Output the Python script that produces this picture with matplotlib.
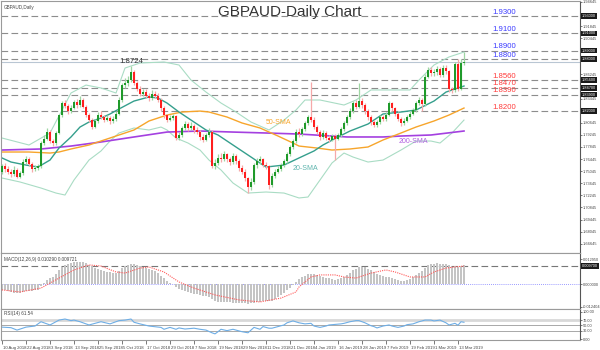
import matplotlib
matplotlib.use("Agg")
import matplotlib.pyplot as plt
import matplotlib.transforms as mtransforms

# daily GBPAUD candles, 10 Aug 2018 .. 14 Mar 2019
OPEN = [
    1.7500, 1.7560, 1.7530, 1.7500, 1.7470, 1.7520, 1.7440, 1.7480, 1.7610, 1.7640,
    1.7590, 1.7530, 1.7540, 1.7560, 1.7830, 1.7880, 1.7960, 1.7850, 1.7830, 1.7950,
    1.8150, 1.8290, 1.8260, 1.8200, 1.8240, 1.8300, 1.8270, 1.8330, 1.8250, 1.8150,
    1.8100, 1.8020, 1.8080, 1.8160, 1.8130, 1.8100, 1.8120, 1.8080, 1.8110, 1.8170,
    1.8330, 1.8500, 1.8520, 1.8560, 1.8650, 1.8520, 1.8460, 1.8400, 1.8420, 1.8380,
    1.8350, 1.8400, 1.8380, 1.8330, 1.8230, 1.8150, 1.8100, 1.8120, 1.8140, 1.7890,
    1.7920, 1.8000, 1.8050, 1.8000, 1.8030, 1.7980, 1.7960, 1.7900, 1.7870, 1.7920,
    1.7960, 1.7560, 1.7600, 1.7660, 1.7640, 1.7700, 1.7640, 1.7610, 1.7680, 1.7620,
    1.7540, 1.7500, 1.7420, 1.7320, 1.7380, 1.7570, 1.7620, 1.7640, 1.7580, 1.7560,
    1.7340, 1.7450, 1.7500, 1.7530, 1.7570, 1.7620, 1.7700, 1.7780, 1.7850, 1.7960,
    1.7930, 1.7990, 1.8060, 1.8130, 1.8100, 1.8010, 1.7960, 1.7900, 1.7950, 1.7890,
    1.7870, 1.7910, 1.7880, 1.7920, 1.7990, 1.8060, 1.8130, 1.8200, 1.8290, 1.8250,
    1.8320, 1.8270, 1.8200, 1.8130, 1.8070, 1.8040, 1.8070, 1.8130, 1.8110, 1.8160,
    1.8290, 1.8230, 1.8170, 1.8110, 1.8060, 1.8090, 1.8130, 1.8170, 1.8210, 1.8290,
    1.8330, 1.8280, 1.8600, 1.8680, 1.8640, 1.8650, 1.8690, 1.8620, 1.8700, 1.8660,
    1.8450, 1.8440, 1.8750, 1.8460, 1.8760,
]
HIGH = [
    1.7590, 1.7600, 1.7560, 1.7530, 1.7560, 1.7540, 1.7510, 1.7640, 1.7680, 1.7670,
    1.7610, 1.7570, 1.7590, 1.7850, 1.7920, 1.8000, 1.7980, 1.7880, 1.7970, 1.8170,
    1.8320, 1.8330, 1.8280, 1.8270, 1.8330, 1.8340, 1.8370, 1.8350, 1.8270, 1.8180,
    1.8120, 1.8110, 1.8190, 1.8200, 1.8160, 1.8150, 1.8140, 1.8140, 1.8200, 1.8360,
    1.8530, 1.8580, 1.8610, 1.8724, 1.8680, 1.8550, 1.8490, 1.8460, 1.8450, 1.8410,
    1.8440, 1.8430, 1.8410, 1.8350, 1.8260, 1.8170, 1.8150, 1.8170, 1.8160, 1.7960,
    1.8030, 1.8080, 1.8070, 1.8070, 1.8050, 1.8010, 1.7980, 1.7930, 1.7950, 1.8000,
    1.7980, 1.7640, 1.7700, 1.7720, 1.7740, 1.7720, 1.7670, 1.7710, 1.7700, 1.7640,
    1.7570, 1.7530, 1.7440, 1.7420, 1.7600, 1.7660, 1.7680, 1.7660, 1.7610, 1.7580,
    1.7480, 1.7530, 1.7560, 1.7600, 1.7650, 1.7730, 1.7810, 1.7880, 1.7990, 1.8000,
    1.8020, 1.8090, 1.8160, 1.8540, 1.8130, 1.8040, 1.7980, 1.7980, 1.7970, 1.7920,
    1.7940, 1.7930, 1.7950, 1.8020, 1.8090, 1.8160, 1.8230, 1.8320, 1.8330, 1.8525,
    1.8350, 1.8290, 1.8220, 1.8150, 1.8100, 1.8100, 1.8160, 1.8160, 1.8190, 1.8320,
    1.8310, 1.8250, 1.8190, 1.8130, 1.8120, 1.8160, 1.8200, 1.8240, 1.8320, 1.8360,
    1.8350, 1.8630, 1.8710, 1.8710, 1.8690, 1.8720, 1.8710, 1.8730, 1.8730, 1.8680,
    1.8480, 1.8770, 1.8800, 1.8800, 1.8880,
]
LOW = [
    1.7470, 1.7500, 1.7470, 1.7440, 1.7450, 1.7420, 1.7420, 1.7460, 1.7590, 1.7560,
    1.7500, 1.7510, 1.7520, 1.7540, 1.7810, 1.7860, 1.7830, 1.7800, 1.7810, 1.7930,
    1.8130, 1.8230, 1.8170, 1.8180, 1.8220, 1.8240, 1.8250, 1.8230, 1.8130, 1.8070,
    1.7990, 1.8000, 1.8060, 1.8110, 1.8070, 1.8080, 1.8050, 1.8060, 1.8090, 1.8150,
    1.8310, 1.8470, 1.8490, 1.8540, 1.8500, 1.8430, 1.8370, 1.8380, 1.8350, 1.8320,
    1.8330, 1.8350, 1.8310, 1.8200, 1.8120, 1.8070, 1.8080, 1.8100, 1.7860, 1.7870,
    1.7900, 1.7980, 1.7970, 1.7980, 1.7950, 1.7930, 1.7870, 1.7840, 1.7850, 1.7900,
    1.7540, 1.7530, 1.7580, 1.7610, 1.7620, 1.7610, 1.7580, 1.7590, 1.7590, 1.7510,
    1.7470, 1.7390, 1.7250, 1.7290, 1.7360, 1.7540, 1.7590, 1.7550, 1.7530, 1.7300,
    1.7320, 1.7420, 1.7480, 1.7510, 1.7550, 1.7600, 1.7680, 1.7760, 1.7830, 1.7900,
    1.7910, 1.7970, 1.8040, 1.8070, 1.7990, 1.7940, 1.7870, 1.7880, 1.7860, 1.7840,
    1.7850, 1.7633, 1.7860, 1.7900, 1.7970, 1.8040, 1.8110, 1.8180, 1.8220, 1.8230,
    1.8240, 1.8170, 1.8100, 1.8040, 1.8010, 1.8020, 1.8050, 1.8080, 1.8090, 1.8140,
    1.8200, 1.8140, 1.8080, 1.8030, 1.8040, 1.8070, 1.8110, 1.8150, 1.8190, 1.8270,
    1.8200, 1.8260, 1.8580, 1.8610, 1.8610, 1.8620, 1.8590, 1.8600, 1.8630, 1.8420,
    1.8410, 1.8420, 1.8430, 1.8440, 1.8730,
]
CLOSE = [
    1.7560, 1.7530, 1.7500, 1.7470, 1.7520, 1.7440, 1.7480, 1.7610, 1.7640, 1.7590,
    1.7530, 1.7540, 1.7560, 1.7830, 1.7880, 1.7960, 1.7850, 1.7830, 1.7950, 1.8150,
    1.8290, 1.8260, 1.8200, 1.8240, 1.8300, 1.8270, 1.8330, 1.8250, 1.8150, 1.8100,
    1.8020, 1.8080, 1.8160, 1.8130, 1.8100, 1.8120, 1.8080, 1.8110, 1.8170, 1.8330,
    1.8500, 1.8520, 1.8560, 1.8650, 1.8520, 1.8460, 1.8400, 1.8420, 1.8380, 1.8350,
    1.8400, 1.8380, 1.8330, 1.8230, 1.8150, 1.8100, 1.8120, 1.8140, 1.7890, 1.7920,
    1.8000, 1.8050, 1.8000, 1.8030, 1.7980, 1.7960, 1.7900, 1.7870, 1.7920, 1.7960,
    1.7560, 1.7600, 1.7660, 1.7640, 1.7700, 1.7640, 1.7610, 1.7680, 1.7620, 1.7540,
    1.7500, 1.7420, 1.7320, 1.7380, 1.7570, 1.7620, 1.7640, 1.7580, 1.7560, 1.7340,
    1.7450, 1.7500, 1.7530, 1.7570, 1.7620, 1.7700, 1.7780, 1.7850, 1.7960, 1.7930,
    1.7990, 1.8060, 1.8130, 1.8100, 1.8010, 1.7960, 1.7900, 1.7950, 1.7890, 1.7870,
    1.7910, 1.7880, 1.7920, 1.7990, 1.8060, 1.8130, 1.8200, 1.8290, 1.8250, 1.8320,
    1.8270, 1.8200, 1.8130, 1.8070, 1.8040, 1.8070, 1.8130, 1.8110, 1.8160, 1.8290,
    1.8230, 1.8170, 1.8110, 1.8060, 1.8090, 1.8130, 1.8170, 1.8210, 1.8290, 1.8330,
    1.8280, 1.8600, 1.8680, 1.8640, 1.8650, 1.8690, 1.8620, 1.8700, 1.8660, 1.8450,
    1.8440, 1.8750, 1.8460, 1.8760, 1.8771,
]
LAST_PRICE = 1.8771

DATE_IDX = list(range(0, 160, 8))
DATE_LABELS = [
    "10 Aug 2018", "22 Aug 2018", "3 Sep 2018", "13 Sep 2018", "25 Sep 2018",
    "5 Oct 2018", "17 Oct 2018", "29 Oct 2018", "7 Nov 2018", "19 Nov 2018",
    "29 Nov 2018", "11 Dec 2018", "21 Dec 2018", "4 Jan 2019", "16 Jan 2019",
    "28 Jan 2019", "7 Feb 2019", "19 Feb 2019", "1 Mar 2019", "13 Mar 2019",
]

# moving averages and bollinger bands, sampled points
SMA20_IDX = [0, 3, 8, 12, 16, 19, 23, 26, 29, 33, 36, 39, 44, 49, 52, 55, 59, 64, 68, 72,
             77, 83, 88, 94, 99, 104, 107, 112, 116, 122, 127, 133, 138, 144, 148, 154]
SMA20_VAL = [1.7657, 1.7610, 1.7575, 1.7552, 1.7633, 1.7772, 1.7900, 1.8015, 1.8073, 1.8119,
             1.8166, 1.8224, 1.8316, 1.8363, 1.8351, 1.8293, 1.8189, 1.8073, 1.7981, 1.7923,
             1.7807, 1.7668, 1.7552, 1.7575, 1.7657, 1.7738, 1.7807, 1.7900, 1.7969, 1.8050,
             1.8166, 1.8189, 1.8212, 1.8316, 1.8420, 1.8490]
BB_UP_IDX = [0, 9, 16, 23, 28, 33, 38, 41, 46, 54, 59, 63, 68, 73, 78, 83, 89, 94, 98, 101,
             106, 114, 118, 123, 136, 139, 144, 149, 154]
BB_UP_VAL = [1.7888, 1.7807, 1.7946, 1.8409, 1.8501, 1.8467, 1.8409, 1.8698, 1.8756, 1.8768,
             1.8733, 1.8559, 1.8420, 1.8293, 1.8189, 1.8073, 1.7981, 1.8096, 1.8212, 1.8328,
             1.8328, 1.8270, 1.8328, 1.8444, 1.8444, 1.8559, 1.8733, 1.8826, 1.8883]
BB_LO_IDX = [0, 6, 13, 18, 21, 24, 29, 33, 36, 39, 44, 49, 53, 55, 58, 62, 66, 69, 73, 77,
             82, 88, 94, 99, 102, 106, 110, 114, 117, 122, 127, 133, 138, 143, 146, 150, 154]
BB_LO_VAL = [1.7425, 1.7379, 1.7309, 1.7251, 1.7228, 1.7402, 1.7633, 1.7738, 1.7853, 1.7946,
             1.8004, 1.7981, 1.8015, 1.7981, 1.7888, 1.7830, 1.7749, 1.7633, 1.7518, 1.7367,
             1.7251, 1.7263, 1.7251, 1.7194, 1.7205, 1.7402, 1.7599, 1.7714, 1.7668, 1.7610,
             1.7633, 1.7749, 1.7853, 1.7853, 1.7830, 1.7946, 1.8096]
SMA50_IDX = [0, 9, 16, 19, 23, 29, 36, 44, 49, 55, 60, 66, 69, 75, 80, 86, 92, 97, 99, 105,
             110, 116, 122, 127, 133, 138, 144, 149, 154]
SMA50_VAL = [1.7726, 1.7726, 1.7714, 1.7726, 1.7761, 1.7807, 1.7888, 1.7981, 1.8085, 1.8154,
             1.8189, 1.8200, 1.8189, 1.8131, 1.8062, 1.8004, 1.7911, 1.7830, 1.7795, 1.7772,
             1.7749, 1.7761, 1.7784, 1.7865, 1.7946, 1.8015, 1.8085, 1.8154, 1.8235]
SMA200_IDX = [0, 13, 23, 33, 44, 55, 66, 77, 88, 99, 110, 115, 127, 133, 143, 154]
SMA200_VAL = [1.7749, 1.7761, 1.7795, 1.7842, 1.7900, 1.7957, 1.7969, 1.7957, 1.7946, 1.7934,
              1.7911, 1.7900, 1.7900, 1.7911, 1.7923, 1.7969]

LEVELS_UP = [1.9300, 1.9100, 1.8900, 1.8800]
LEVELS_DOWN = [1.8560, 1.8470, 1.8390, 1.8200]
# right-hand scale labels that are not hidden behind a level box
PRICE_TICKS = [1.94645, 1.91845, 1.90445, 1.86245, 1.83445, 1.80645, 1.79245, 1.77845,
               1.76445, 1.75045, 1.73645, 1.72245, 1.70845, 1.69445, 1.68045, 1.66645]

MACD_MAIN = [
    -0.0032, -0.0035, -0.0040, -0.0045, -0.0047, -0.0050, -0.0049, -0.0045, -0.0040, -0.0038,
    -0.0036, -0.0033, -0.0030, -0.0012, 0.0005, 0.0020, 0.0030, 0.0040, 0.0055, 0.0075,
    0.0092, 0.0102, 0.0108, 0.0113, 0.0118, 0.0120, 0.0121, 0.0118, 0.0112, 0.0104,
    0.0095, 0.0088, 0.0082, 0.0076, 0.0070, 0.0066, 0.0063, 0.0061, 0.0062, 0.0070,
    0.0085, 0.0097, 0.0105, 0.0110, 0.0109, 0.0105, 0.0099, 0.0094, 0.0088, 0.0080,
    0.0075, 0.0068, 0.0058, 0.0045, 0.0030, 0.0018, 0.0008, -0.0002, -0.0018, -0.0028,
    -0.0035, -0.0040, -0.0045, -0.0048, -0.0052, -0.0056, -0.0060, -0.0063, -0.0065, -0.0068,
    -0.0082, -0.0090, -0.0095, -0.0097, -0.0097, -0.0098, -0.0099, -0.0100, -0.0101, -0.0103,
    -0.0104, -0.0105, -0.0106, -0.0103, -0.0100, -0.0098, -0.0096, -0.0094, -0.0092, -0.0094,
    -0.0090, -0.0082, -0.0072, -0.0060, -0.0046, -0.0035, -0.0020, -0.0005, 0.0012, 0.0025,
    0.0036, 0.0045, 0.0052, 0.0056, 0.0054, 0.0050, 0.0045, 0.0040, 0.0035, 0.0030,
    0.0027, 0.0024, 0.0025, 0.0030, 0.0038, 0.0048, 0.0060, 0.0073, 0.0082, 0.0090,
    0.0094, 0.0090, 0.0083, 0.0074, 0.0064, 0.0055, 0.0048, 0.0042, 0.0038, 0.0038,
    0.0034, 0.0028, 0.0022, 0.0017, 0.0016, 0.0020, 0.0028, 0.0038, 0.0050, 0.0062,
    0.0070, 0.0088, 0.0100, 0.0106, 0.0110, 0.0112, 0.0110, 0.0110, 0.0108, 0.0100,
    0.0094, 0.0098, 0.0093, 0.0097, 0.0103,
]
SIGNAL_IDX = [0, 6, 13, 19, 24, 29, 33, 38, 41, 46, 49, 54, 59, 64, 71, 79, 86, 93, 98, 99,
              103, 106, 111, 114, 118, 123, 128, 131, 136, 141, 144, 148, 151, 154]
SIGNAL_VAL = [-0.0032, -0.0043, -0.0022, 0.0032, 0.0076, 0.0103, 0.0097, 0.0065, 0.0059, 0.0086,
              0.0092, 0.0065, 0.0011, -0.0022, -0.0059, -0.0086, -0.0097, -0.0076, -0.0043, -0.0016,
              0.0038, 0.0049, 0.0049, 0.0038, 0.0032, 0.0059, 0.0076, 0.0065, 0.0038, 0.0038,
              0.0065, 0.0086, 0.0092, 0.0097]
MACD_NOW = 0.0097

RSI_IDX = [0, 3, 5, 8, 11, 13, 14, 16, 18, 19, 21, 23, 24, 26, 29, 31, 33, 36, 39, 41,
           43, 44, 46, 49, 53, 54, 56, 58, 59, 61, 64, 66, 68, 70, 71, 72, 73, 75, 77, 78,
           80, 82, 83, 84, 86, 87, 89, 90, 92, 94, 95, 97, 99, 101, 103, 104, 106, 108, 109, 111,
           113, 114, 116, 118, 119, 121, 123, 124, 125, 127, 129, 130, 132, 134, 135, 137, 139, 141, 143, 144,
           146, 148, 149, 151, 152, 153, 154]
RSI_VAL = [44, 42, 33, 44, 48, 64, 60, 52, 64, 70, 74, 68, 70, 64, 52, 58, 64, 56, 68, 70,
           74, 62, 56, 48, 43, 36, 43, 36, 41, 37, 40, 36, 33, 23, 19, 27, 36, 31, 36, 33,
           27, 23, 33, 43, 36, 46, 40, 40, 46, 52, 60, 67, 60, 56, 58, 48, 43, 48, 52, 54,
           56, 58, 64, 68, 68, 60, 49, 46, 41, 48, 52, 48, 43, 48, 53, 56, 64, 70, 70, 67,
           70, 60, 52, 58, 51, 64, 62]

W, H = 600, 350
FONT = "Liberation Sans"
UP_BODY, UP_WICK = "#1f9a2a", "#9fd6a3"
DN_BODY, DN_WICK = "#ff1f1f", "#f6a9a9"
SCALE_FS = 2.8


def rect(x0, y0, x1, y1):
    return [x0 / W, 1 - y1 / H, (x1 - x0) / W, (y1 - y0) / H]


def value_box(axis, y, text):
    axis.text(1.003, y, text, transform=axis.get_yaxis_transform(), fontsize=SCALE_FS,
              color="white", ha="left", va="center", clip_on=False, zorder=6,
              bbox=dict(boxstyle="square,pad=0.2", fc="#1a1a1a", ec="none"))


plt.rcParams.update({"font.family": FONT, "axes.linewidth": 0.8})
fig = plt.figure(figsize=(6, 3.5), dpi=100)
ax = fig.add_axes(rect(1, 1, 580, 253))
ax_macd = fig.add_axes(rect(1, 253, 580, 309))
ax_rsi = fig.add_axes(rect(1, 309, 580, 340))

XLIM = (-1 / 3, 578 / 3)
for a in (ax, ax_macd, ax_rsi):
    a.set_xlim(*XLIM)
    a.yaxis.tick_right()
    a.tick_params(axis="y", labelsize=SCALE_FS, length=1.2, width=0.5, pad=0.6, colors="#444444")
    a.tick_params(axis="x", length=0)
    a.set_xticks([])
    for side in a.spines.values():
        side.set_color("#9a9a9a")
    a.spines["right"].set_color("#555555")

# main price panel
ax.set_ylim(1.6557, 1.9474)
ax.set_yticks(PRICE_TICKS, [f"{v:.5f}" for v in PRICE_TICKS])

for lvl in LEVELS_UP + LEVELS_DOWN:
    ax.axhline(lvl, color="#8d8d8d", lw=0.8, ls=(0, (6, 3)), zorder=1)
ax.axhline(LAST_PRICE, color="#b9c6d3", lw=0.8, zorder=1)

ax.plot(BB_UP_IDX, BB_UP_VAL, color="#a9dcc4", lw=0.8, zorder=2)
ax.plot(BB_LO_IDX, BB_LO_VAL, color="#a9dcc4", lw=0.8, zorder=2)
ax.plot(SMA200_IDX, SMA200_VAL, color="#a440e0", lw=1.2, zorder=2)
ax.plot(SMA50_IDX, SMA50_VAL, color="#f7a52b", lw=1.0, zorder=2)
ax.plot(SMA20_IDX, SMA20_VAL, color="#359f8d", lw=1.0, zorder=2)

idx = list(range(len(CLOSE)))
wick_cols = [UP_WICK if c >= o else DN_WICK for o, c in zip(OPEN, CLOSE)]
body_cols = [UP_BODY if c >= o else DN_BODY for o, c in zip(OPEN, CLOSE)]
ax.vlines(idx, LOW, HIGH, colors=wick_cols, lw=0.9, zorder=3)
heights = [c - o if abs(c - o) > 0.0004 else 0.0004 for o, c in zip(OPEN, CLOSE)]
ax.bar(idx, heights, bottom=OPEN, width=0.72, color=body_cols, linewidth=0, zorder=4)

for lvl in LEVELS_UP:
    ax.text(163.3, lvl + 0.0003, f"{lvl:.4f}", color="#3b3bff", fontsize=5.6,
            ha="left", va="bottom", zorder=5)
for lvl in LEVELS_DOWN:
    ax.text(163.3, lvl + 0.0003, f"{lvl:.4f}", color="#ff3b3b", fontsize=5.6,
            ha="left", va="bottom", zorder=5)
for lvl in LEVELS_UP + LEVELS_DOWN:
    value_box(ax, lvl, f"{lvl:.5f}")

ax.text(43, 1.8724 + 0.0006, "1.8724", fontsize=5.6, color="#333333", ha="center", va="bottom")
ax.text(88, 1.8062, "50-SMA", fontsize=5.0, color="#f7a52b", ha="left", va="center")
ax.text(97, 1.7540, "20-SMA", fontsize=5.0, color="#5fb5ae", ha="left", va="center")
ax.text(132.3, 1.7853, "200-SMA", fontsize=5.0, color="#b060e0", ha="left", va="center")
ax.text(0.005, 0.985, "GBPAUD,Daily", transform=ax.transAxes, fontsize=3.3,
        color="#444444", ha="left", va="top")
fig.text(290 / W, 1 - 12 / H, "GBPAUD-Daily Chart", fontsize=11, color="#333333",
         ha="center", va="center")

# MACD panel
ax_macd.set_ylim(-0.0135, 0.01674)
ax_macd.set_yticks([0.0134, 0.0, -0.0124], ["0.012950", "0.000000", "-0.012404"])
ax_macd.bar(idx, MACD_MAIN, width=0.4, color="#c4c4c4", linewidth=0, zorder=2)
ax_macd.plot(SIGNAL_IDX, SIGNAL_VAL, color="#ff5a5a", lw=0.8, ls=(0, (1, 1)), zorder=3)
ax_macd.axhline(0, color="#7a7aff", lw=0.6, ls=(0, (1, 1.5)), zorder=1)
ax_macd.axhline(MACD_NOW, color="#777777", lw=0.8, ls=(0, (6, 3)), zorder=1)
value_box(ax_macd, MACD_NOW, f"{MACD_NOW:.6f}")
ax_macd.text(0.005, 0.93, "MACD(12,26,9) 0.010290 0.009721", transform=ax_macd.transAxes,
             fontsize=3.3, color="#444444", ha="left", va="top")

# RSI panel
ax_rsi.set_ylim(-3.7, 111.1)
ax_rsi.set_yticks([100, 70, 50, 30, 0], ["100.00", "70.00", "50.00", "30.00", "0.00"])
ax_rsi.axhline(70, color="#d8d8d8", lw=2.0, zorder=1)
ax_rsi.axhline(50, color="#a8a8a8", lw=0.7, zorder=1)
ax_rsi.axhline(30, color="#a8a8a8", lw=0.7, zorder=1)
ax_rsi.plot(RSI_IDX, RSI_VAL, color="#6eaee6", lw=0.8, zorder=2)
ax_rsi.text(0.005, 0.95, "RSI(14) 61.54", transform=ax_rsi.transAxes,
            fontsize=3.3, color="#444444", ha="left", va="top")

ax_rsi.set_xticks(DATE_IDX, DATE_LABELS)
ax_rsi.tick_params(axis="x", labelsize=3.1, length=3, width=0.5, pad=1.5,
                   colors="#444444", direction="out")
shift = mtransforms.ScaledTranslation(1 / 100, 0, fig.dpi_scale_trans)
for lab in ax_rsi.get_xticklabels():
    lab.set_ha("left")
    lab.set_transform(lab.get_transform() + shift)

fig.savefig("out.png", dpi=100)
